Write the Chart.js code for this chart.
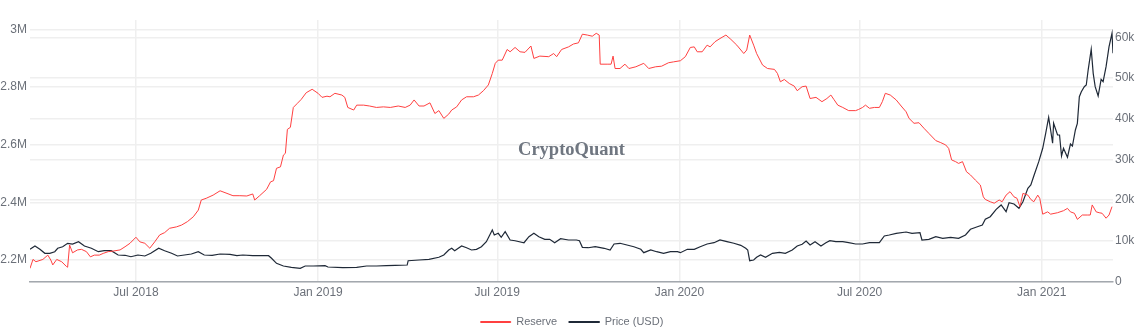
<!DOCTYPE html>
<html>
<head>
<meta charset="utf-8">
<title>Exchange Reserve vs Price</title>
<script src="https://cdn.jsdelivr.net/npm/chart.js@4.4.1/dist/chart.umd.min.js"></script>
<style>
  html, body { margin: 0; padding: 0; background: #ffffff; }
  #wrap { width: 1144px; height: 336px; }
</style>
</head>
<body>
<div id="wrap"><canvas id="chart" width="1144" height="336"></canvas></div>
<script>
// ---- data -----------------------------------------------------------------
const reserveDates = [
  '2018-03-16','2018-03-19','2018-03-22','2018-03-29','2018-04-03','2018-04-06','2018-04-08','2018-04-12',
  '2018-04-17','2018-04-22','2018-04-23','2018-04-25','2018-04-28','2018-05-03','2018-05-07','2018-05-12',
  '2018-05-16','2018-05-20','2018-05-25','2018-05-29','2018-06-03','2018-06-08','2018-06-15','2018-06-20',
  '2018-06-25','2018-07-01','2018-07-05','2018-07-10','2018-07-15','2018-07-20','2018-07-25','2018-07-30',
  '2018-08-04','2018-08-11','2018-08-16','2018-08-22','2018-08-28','2018-09-02','2018-09-05','2018-09-10',
  '2018-09-17','2018-09-24','2018-10-01','2018-10-07','2018-10-14','2018-10-21','2018-10-27','2018-10-29',
  '2018-11-03','2018-11-10','2018-11-14','2018-11-17','2018-11-20','2018-11-24','2018-11-27','2018-11-29',
  '2018-12-01','2018-12-04','2018-12-07','2018-12-11','2018-12-15','2018-12-20','2018-12-26','2019-01-01',
  '2019-01-05','2019-01-10','2019-01-13','2019-01-18','2019-01-25','2019-01-28','2019-01-31','2019-02-06',
  '2019-02-09','2019-02-16','2019-02-22','2019-03-01','2019-03-08','2019-03-15','2019-03-23','2019-03-30',
  '2019-04-04','2019-04-08','2019-04-13','2019-04-18','2019-04-24','2019-04-29','2019-05-03','2019-05-08',
  '2019-05-13','2019-05-16','2019-05-21','2019-05-26','2019-05-31','2019-06-07','2019-06-12','2019-06-17',
  '2019-06-22','2019-06-26','2019-06-29','2019-07-02','2019-07-06','2019-07-11','2019-07-14','2019-07-19',
  '2019-07-24','2019-07-29','2019-08-04','2019-08-07','2019-08-13','2019-08-22','2019-08-27','2019-08-30',
  '2019-09-04','2019-09-11','2019-09-16','2019-09-21','2019-09-25','2019-09-30','2019-10-05','2019-10-09',
  '2019-10-12','2019-10-13','2019-10-20','2019-10-24','2019-10-26','2019-10-28','2019-11-02','2019-11-07',
  '2019-11-11','2019-11-18','2019-11-26','2019-12-01','2019-12-08','2019-12-14','2019-12-21','2019-12-26',
  '2020-01-02','2020-01-07','2020-01-12','2020-01-16','2020-01-19','2020-01-24','2020-01-29','2020-02-01',
  '2020-02-06','2020-02-11','2020-02-17','2020-02-22','2020-02-28','2020-03-06','2020-03-09','2020-03-12',
  '2020-03-16','2020-03-19','2020-03-25','2020-03-30','2020-04-06','2020-04-09','2020-04-12','2020-04-16',
  '2020-04-21','2020-04-26','2020-04-29','2020-05-04','2020-05-08','2020-05-12','2020-05-18','2020-05-24',
  '2020-05-29','2020-06-02','2020-06-05','2020-06-09','2020-06-14','2020-06-20','2020-06-27','2020-06-30',
  '2020-07-04','2020-07-07','2020-07-11','2020-07-16','2020-07-21','2020-07-24','2020-07-27','2020-08-01',
  '2020-08-07','2020-08-12','2020-08-17','2020-08-20','2020-08-25','2020-08-30','2020-09-04','2020-09-09',
  '2020-09-16','2020-09-21','2020-09-26','2020-09-29','2020-10-02','2020-10-06','2020-10-09','2020-10-13',
  '2020-10-17','2020-10-21','2020-10-26','2020-10-31','2020-11-03','2020-11-05','2020-11-10','2020-11-14',
  '2020-11-19','2020-11-22','2020-11-26','2020-11-30','2020-12-04','2020-12-07','2020-12-10','2020-12-13',
  '2020-12-18','2020-12-21','2020-12-24','2020-12-28','2020-12-30','2021-01-02','2021-01-07','2021-01-10',
  '2021-01-17','2021-01-23','2021-01-27','2021-01-30','2021-02-03','2021-02-06','2021-02-11','2021-02-16',
  '2021-02-19','2021-02-21','2021-02-25','2021-02-28','2021-03-03','2021-03-07','2021-03-10','2021-03-13'
];

// exchange reserve, BTC
const reserveValues = [
  2171000,2202000,2194000,2202000,2217000,2200000,2183000,2202000,
  2194000,2177000,2175000,2252000,2225000,2235000,2237000,2229000,
  2211000,2217000,2217000,2223000,2229000,2231000,2235000,2246000,
  2258000,2279000,2263000,2258000,2241000,2263000,2287000,2295000,
  2310000,2315000,2321000,2333000,2350000,2373000,2408000,2414000,
  2425000,2440000,2431000,2423000,2423000,2422000,2429000,2408000,
  2423000,2445000,2471000,2475000,2518000,2523000,2564000,2570000,
  2653000,2660000,2729000,2743000,2757000,2780000,2792000,2778000,
  2764000,2768000,2766000,2778000,2772000,2764000,2729000,2720000,
  2737000,2737000,2734000,2729000,2731000,2729000,2734000,2729000,
  2737000,2755000,2734000,2734000,2745000,2708000,2718000,2691000,
  2706000,2720000,2731000,2755000,2766000,2766000,2772000,2787000,
  2807000,2847000,2882000,2893000,2893000,2930000,2922000,2937000,
  2922000,2920000,2942000,2899000,2907000,2905000,2916000,2905000,
  2930000,2939000,2949000,2953000,2983000,2980000,2976000,2986000,
  2980000,2879000,2879000,2879000,2907000,2864000,2864000,2879000,
  2864000,2870000,2882000,2864000,2870000,2872000,2884000,2887000,
  2891000,2905000,2937000,2939000,2922000,2922000,2945000,2939000,
  2957000,2968000,2980000,2965000,2945000,2916000,2928000,2980000,
  2945000,2916000,2876000,2864000,2861000,2847000,2818000,2826000,
  2812000,2803000,2787000,2801000,2803000,2760000,2764000,2749000,
  2760000,2772000,2757000,2737000,2729000,2718000,2718000,2722000,
  2729000,2737000,2726000,2729000,2729000,2749000,2778000,2772000,
  2755000,2734000,2714000,2691000,2674000,2676000,2657000,2639000,
  2614000,2607000,2599000,2587000,2547000,2541000,2535000,2541000,
  2506000,2495000,2477000,2460000,2419000,2410000,2402000,2397000,
  2408000,2402000,2425000,2437000,2419000,2414000,2385000,2431000,
  2425000,2410000,2402000,2425000,2414000,2359000,2367000,2359000,
  2364000,2371000,2379000,2367000,2362000,2341000,2356000,2356000,
  2356000,2391000,2367000,2364000,2362000,2345000,2356000,2385000
];

const priceDates = [
  '2018-03-16','2018-03-21','2018-03-26','2018-03-31','2018-04-05','2018-04-10','2018-04-13','2018-04-18',
  '2018-04-23','2018-04-28','2018-05-04','2018-05-10','2018-05-17','2018-05-24','2018-05-30','2018-06-06',
  '2018-06-13','2018-06-20','2018-06-26','2018-07-03','2018-07-10','2018-07-16','2018-07-24','2018-07-30',
  '2018-08-06','2018-08-12','2018-08-19','2018-08-26','2018-09-02','2018-09-08','2018-09-16','2018-09-24',
  '2018-10-04','2018-10-11','2018-10-17','2018-10-27','2018-11-12','2018-11-15','2018-11-20','2018-11-27',
  '2018-12-05','2018-12-14','2018-12-19','2018-12-27','2019-01-08','2019-01-11','2019-01-26','2019-02-09',
  '2019-02-19','2019-03-01','2019-03-11','2019-03-20','2019-04-01','2019-04-02','2019-04-13','2019-04-23',
  '2019-05-03','2019-05-08','2019-05-13','2019-05-16','2019-05-19','2019-05-26','2019-05-31','2019-06-05',
  '2019-06-10','2019-06-15','2019-06-20','2019-06-26','2019-06-28','2019-07-02','2019-07-05','2019-07-09',
  '2019-07-14','2019-07-19','2019-07-28','2019-08-02','2019-08-07','2019-08-12','2019-08-18','2019-08-23',
  '2019-08-28','2019-09-03','2019-09-11','2019-09-19','2019-09-22','2019-09-25','2019-10-01','2019-10-08',
  '2019-10-17','2019-10-23','2019-10-27','2019-11-02','2019-11-09','2019-11-16','2019-11-23','2019-11-26',
  '2019-12-03','2019-12-09','2019-12-16','2019-12-23','2019-12-30','2020-01-02','2020-01-09','2020-01-16',
  '2020-01-22','2020-01-29','2020-02-05','2020-02-11','2020-02-18','2020-02-25','2020-03-03','2020-03-08',
  '2020-03-10','2020-03-12','2020-03-16','2020-03-19','2020-03-23','2020-03-28','2020-04-04','2020-04-11',
  '2020-04-17','2020-04-24','2020-04-29','2020-05-04','2020-05-08','2020-05-12','2020-05-17','2020-05-23',
  '2020-05-28','2020-06-01','2020-06-07','2020-06-14','2020-06-20','2020-06-27','2020-07-04','2020-07-11',
  '2020-07-21','2020-07-26','2020-07-31','2020-08-07','2020-08-17','2020-08-23','2020-08-31','2020-09-02',
  '2020-09-09','2020-09-16','2020-09-23','2020-10-01','2020-10-09','2020-10-16','2020-10-21','2020-10-28',
  '2020-11-02','2020-11-05','2020-11-10','2020-11-16','2020-11-21','2020-11-26','2020-11-29','2020-12-04',
  '2020-12-09','2020-12-13','2020-12-18','2020-12-21','2020-12-24','2020-12-29','2021-01-02','2021-01-05',
  '2021-01-08','2021-01-10','2021-01-12','2021-01-13','2021-01-17','2021-01-19','2021-01-21','2021-01-23',
  '2021-01-27','2021-01-30','2021-02-01','2021-02-04','2021-02-06','2021-02-08','2021-02-10','2021-02-13',
  '2021-02-15','2021-02-17','2021-02-20','2021-02-22','2021-02-24','2021-02-27','2021-03-02','2021-03-04',
  '2021-03-07','2021-03-10','2021-03-13','2021-03-14'
];

// BTC price, USD
const priceValues = [
  7910,8720,7910,6930,6930,7320,8160,8550,
  9390,9210,9780,8720,8160,7320,7570,7570,
  6510,6440,6090,6510,6270,6930,8160,7570,
  6930,6270,6510,6760,7320,6510,6440,6760,
  6680,6340,6510,6340,6340,5700,4470,3810,
  3490,3240,3810,3810,3880,3560,3390,3490,
  3810,3810,3880,3980,4050,5110,5280,5450,
  5950,6510,7740,8160,7570,8720,8300,7740,
  7910,8550,9780,12650,11430,11840,10860,12240,
  10200,10020,9530,11010,11840,11010,10370,10370,
  9530,10520,10200,10200,10020,8400,8300,8550,
  8160,7740,9210,9390,8970,8550,7910,7080,
  7740,7320,6930,7320,7320,7080,7910,7910,
  8550,9210,9530,10200,9780,9390,8890,8160,
  7740,5110,5280,5950,6510,5950,6930,7170,
  6930,7740,8720,9140,9950,8970,9780,8720,
  9530,10020,9780,9780,9530,9210,9210,9530,
  9530,11180,11430,11840,12160,11840,11990,10200,
  10370,11010,10610,10860,10610,11430,12830,13460,
  13880,15280,15920,17740,18800,17150,19360,19040,
  17990,19610,22900,23710,25920,29440,32730,36410,
  40340,37220,33960,38870,36000,36000,30840,32730,
  30520,33780,33290,37220,38870,45410,46630,47860,
  48280,52140,57050,51150,47860,45580,49680,49090,
  52780,57690,60980,56070
];

const reserveTicks = [2200000, 2400000, 2600000, 2800000, 3000000];
const priceTicks = [0, 10000, 20000, 30000, 40000, 50000, 60000];
const dateTicks = ['2018-07-01', '2019-01-01', '2019-07-01', '2020-01-01', '2020-07-01', '2021-01-01'];
const monthNames = ['Jan','Feb','Mar','Apr','May','Jun','Jul','Aug','Sep','Oct','Nov','Dec'];

// ---- helpers ----------------------------------------------------------------
const toTime = s => Date.parse(s + 'T00:00:00Z');
const toPoints = (dates, values) => dates.map((d, i) => ({ x: toTime(d), y: values[i] }));

const TEXT = '#6b7079';
const GRID = '#efefef';
const RED = '#ff4040';
const NAVY = '#1f2937';

Chart.defaults.font.family = '"Liberation Sans", Arial, sans-serif';
Chart.defaults.font.size = 12;
Chart.defaults.color = TEXT;

// brand mark in the middle of the plot
const watermark = {
  id: 'watermark',
  beforeDatasetsDraw(chart) {
    const { ctx, chartArea } = chart;
    ctx.save();
    ctx.font = 'bold 18.5px "Liberation Serif", "DejaVu Serif", serif';
    ctx.fillStyle = '#6f7680';
    ctx.textAlign = 'center';
    ctx.textBaseline = 'alphabetic';
    ctx.fillText('CryptoQuant', (chartArea.left + chartArea.right) / 2, 155);
    ctx.restore();
  }
};

new Chart(document.getElementById('chart'), {
  type: 'line',
  data: {
    datasets: [
      {
        label: 'Reserve',
        data: toPoints(reserveDates, reserveValues),
        yAxisID: 'yReserve',
        borderColor: RED,
        backgroundColor: RED,
        borderWidth: 1,
        pointRadius: 0,
        tension: 0
      },
      {
        label: 'Price (USD)',
        data: toPoints(priceDates, priceValues),
        yAxisID: 'yPrice',
        borderColor: NAVY,
        backgroundColor: NAVY,
        borderWidth: 1.2,
        pointRadius: 0,
        tension: 0
      }
    ]
  },
  options: {
    responsive: false,
    devicePixelRatio: 1,
    animation: false,
    events: [],
    layout: { padding: { top: 20, right: 0, bottom: 0, left: 0 } },
    plugins: {
      tooltip: { enabled: false },
      legend: {
        position: 'bottom',
        maxHeight: 31.5,
        labels: {
          boxWidth: 30,
          boxHeight: 1,
          padding: 12,
          color: TEXT,
          font: { size: 11 }
        }
      }
    },
    scales: {
      x: {
        type: 'linear',
        min: toTime(reserveDates[0]),
        max: toTime(priceDates[priceDates.length - 1]),
        afterBuildTicks: s => { s.ticks = dateTicks.map(d => ({ value: toTime(d) })); },
        afterFit: s => { s.height = 23; },
        ticks: {
          padding: 4,
          maxRotation: 0,
          autoSkip: false,
          callback: v => {
            const d = new Date(v);
            return monthNames[d.getUTCMonth()] + ' ' + d.getUTCFullYear();
          }
        },
        grid: { color: GRID, lineWidth: 1.5, drawTicks: false },
        border: { display: true, color: '#a3a8ae', width: 1.5 }
      },
      yReserve: {
        type: 'linear',
        position: 'left',
        min: 2125500,
        max: 3032200,
        afterBuildTicks: s => { s.ticks = reserveTicks.map(v => ({ value: v })); },
        afterFit: s => { s.width = 30; },
        ticks: {
          padding: 3,
          callback: v => (v / 1000000) + 'M'
        },
        grid: { color: GRID, lineWidth: 1.5, drawTicks: false },
        border: { display: false }
      },
      yPrice: {
        type: 'linear',
        position: 'right',
        min: 0,
        max: 64250,
        afterBuildTicks: s => { s.ticks = priceTicks.map(v => ({ value: v })); },
        afterFit: s => { s.width = 31; },
        ticks: {
          padding: 2,
          callback: v => (v === 0 ? '0' : (v / 1000) + 'k')
        },
        grid: { color: GRID, lineWidth: 1.5, drawTicks: false },
        border: { display: false }
      }
    }
  },
  plugins: [watermark]
});
</script>
</body>
</html>
